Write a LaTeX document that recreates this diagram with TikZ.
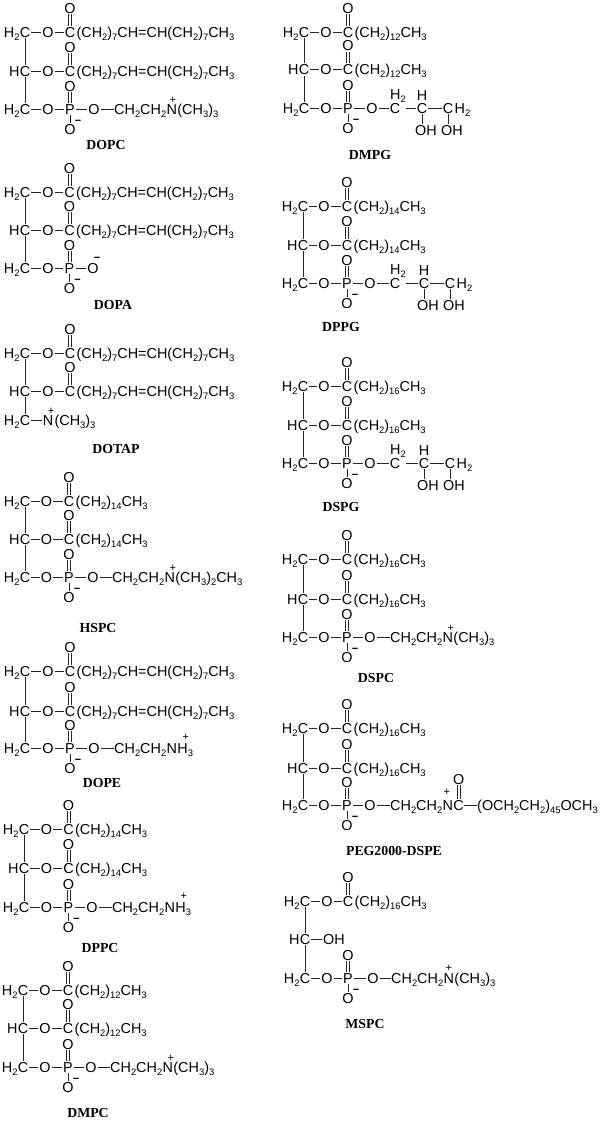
\documentclass[tikz,border=0pt]{standalone}
\usepackage{fontspec}
\setmainfont{Liberation Serif}
\newfontfamily\chemf{Liberation Sans}
\newcommand\sbs[1]{\raisebox{-0.22em}{\fontsize{9.4}{9.4}\selectfont #1}}
\tikzset{
 atom/.style={inner xsep=1pt,inner ysep=1pt,text height=10.2pt,text depth=0pt,font=\chemf\fontsize{14.4}{14.4}\selectfont},
 chg/.style={inner sep=0pt,font=\chemf\fontsize{11}{11}\selectfont},
 bond/.style={line width=.7pt,black!85},
 lab/.style={inner sep=0pt,font=\bfseries\fontsize{13.8}{14}\selectfont},
}
\newcommand\cols[3]{\def\xo{#1}\def\xk{#2}\def\xe{#3}}
% double bond: lower node, upper node
\newcommand\dbl[2]{%
\draw[bond] ([xshift=-1.5pt]#1.north)--([xshift=-1.5pt]#2.south);
\draw[bond] ([xshift=1.5pt]#1.north)--([xshift=1.5pt]#2.south);}
% id, x, y, left label, chain
\newcommand\ester[5]{%
\begin{scope}[shift={(#2,#3)}]
\node[atom] (#1c) at (20,0) {C};
\node[atom,anchor=east,inner xsep=0pt,xshift=1.2pt] (#1h) at (#1c.west) {#4};
\node[atom] (#1o) at (\xo,0) {O};
\node[atom] (#1k) at (\xk,0) {C};
\node[atom,anchor=west,inner xsep=0pt] (#1t) at (#1k.east) {#5};
\node[atom] (#1d) at (\xk,-24) {O};
\draw[bond] (#1c)--(#1o);
\draw[bond] (#1o)--(#1k);
\dbl{#1k}{#1d}
\end{scope}}
% id, x, y : H2C-O-P(=O)(O-)-O
\newcommand\phos[3]{%
\begin{scope}[shift={(#2,#3)}]
\node[atom] (#1c) at (20,0) {C};
\node[atom,anchor=east,inner xsep=0pt,xshift=1.2pt] (#1h) at (#1c.west) {H\sbs{2}};
\node[atom] (#1o) at (\xo,0) {O};
\node[atom] (#1p) at (\xk,0) {P};
\node[atom] (#1d) at (\xk,-23) {O};
\node[atom] (#1b) at (\xk,20.5) {O};
\node[chg] (#1m) at (\xk+8,13.5) {\bfseries\textminus};
\node[atom] (#1e) at (\xe,0) {O};
\draw[bond] (#1c)--(#1o);
\draw[bond] (#1o)--(#1p);
\draw[bond] (#1p)--(#1e);
\draw[bond] (#1p)--(#1b);
\dbl{#1p}{#1d}
\end{scope}}
% id, x, y3, start of chain, rest after N
\newcommand\tailN[5]{%
\begin{scope}[shift={(#2,#3)}]
\node[atom,anchor=west,inner xsep=0pt] (#1s) at (#4,0) {CH\sbs{2}CH\sbs{2}};
\node[atom,anchor=west,inner xsep=0pt] (#1n) at (#1s.east) {N};
\node[atom,anchor=west,inner xsep=0pt] (#1r) at (#1n.east) {#5};
\draw[bond] (#1e)--(#1s);
\end{scope}}
% name, host node, dx, dy (pt, up)
\newcommand\plusat[4]{\node[chg,xshift=#3pt,yshift=#4pt] (#1) at (#2.north) {+};}
% id, x, y3, g, f, j : PG tail
\newcommand\tailG[6]{%
\begin{scope}[shift={(#2,#3)}]
\node[atom] (#1g) at (#4,0) {C};
\node[atom,yshift=13.5pt,xshift=3pt] (#1hh) at (#1g) {H\sbs{2}};
\node[atom] (#1f) at (#5,0) {C};
\node[atom] (#1fh) at (#5,-12.5) {H};
\node[atom] (#1fo) at (#5+4,22) {OH};
\node[atom] (#1j) at (#6,0) {C};
\node[atom,anchor=west,inner xsep=0pt] (#1jh) at (#1j.east) {H\sbs{2}};
\node[atom] (#1jo) at (#6+4,22) {OH};
\draw[bond] (#1e)--(#1g);
\draw[bond] ([xshift=5pt]#1g.east)--(#1f);
\draw[bond] (#1f)--(#1j);
\draw[bond] (#1f)--(#1f|-#1fo.north);
\draw[bond] (#1j)--(#1j|-#1jo.north);
\end{scope}}
\newcommand\vb[2]{\draw[bond] (#1c)--(#2c);}
\newcommand\unsat{(CH\sbs{2})\sbs{7}CH=CH(CH\sbs{2})\sbs{7}CH\sbs{3}}
\newcommand\sat[1]{(CH\sbs{2})\sbs{#1}CH\sbs{3}}
\newcommand\topp[6]{% id,x,y1,y2,chain,y3
\ester{#1a}{#2}{#3}{H\sbs{2}}{#5}
\ester{#1g}{#2}{#4}{H}{#5}
\phos{#1x}{#2}{#6}
\vb{#1a}{#1g}\vb{#1g}{#1x}}
\begin{document}
\begin{tikzpicture}[x=1pt,y=-1pt]
\useasboundingbox (0,0) rectangle (600,1124);
\fill[white] (0,0) rectangle (600,1124);
% DOPC
\cols{43}{65}{89}
\topp{a}{5}{32}{71}{\unsat}{109}
\tailN{ax}{5}{109}{109}{(CH\sbs{3})\sbs{3}}
\plusat{aq}{axn}{1}{2.5}
\node[lab] (la) at (106,145) {DOPC};
% DOPA
\cols{43}{64.5}{88}
\topp{b}{5}{192}{230}{\unsat}{268}
\node[chg] (bq) at (97,259) {\bfseries\textminus};
\node[lab] (lb) at (113,305) {DOPA};
% DOTAP
\cols{43}{65}{89}
\ester{ca}{5}{353}{H\sbs{2}}{\unsat}
\ester{cg}{5}{391}{H}{\unsat}
\node[atom] (cxc) at (25,420) {C};
\node[atom,anchor=east,inner xsep=0pt,xshift=1.2pt] (cxh) at (cxc.west) {H\sbs{2}};
\node[atom] (cxn) at (48,420) {N};
\node[atom,anchor=west,inner xsep=0pt] (cxr) at (cxn.east) {(CH\sbs{3})\sbs{3}};
\plusat{cxq}{cxn}{3}{2.5}
\draw[bond] (cxc)--(cxn);
\vb{ca}{cg}\vb{cg}{cx}
\node[lab] (lc) at (116,449) {DOTAP};
% HSPC
\cols{41.5}{64}{88}
\topp{d}{5}{501}{539}{\sat{14}}{577}
\tailN{dx}{5}{577}{107}{(CH\sbs{3})\sbs{2}CH\sbs{3}}
\plusat{dq}{dxn}{3}{2.5}
\node[lab] (ld) at (98,628) {HSPC};
% DOPE
\cols{43}{65}{89}
\topp{e}{5}{671}{711}{\unsat}{748}
\tailN{ex}{5}{748}{109}{H\sbs{3}}
\plusat{eq}{exr}{0.5}{4}
\node[lab] (le) at (102,783) {DOPE};
% DPPC
\cols{42.5}{64.5}{88}
\topp{f}{4}{829}{868}{\sat{14}}{907}
\tailN{fx}{4}{907}{108}{H\sbs{3}}
\plusat{fq}{fxr}{0.5}{4}
\node[lab] (lf) at (100,948) {DPPC};
% DMPC
\cols{42}{65}{88}
\topp{g}{3}{990}{1028}{\sat{12}}{1067}
\tailN{gx}{3}{1067}{107}{(CH\sbs{3})\sbs{3}}
\plusat{gq}{gxn}{3}{2.5}
\node[lab] (lg) at (88,1113) {DMPC};
% DMPG
\cols{42}{64}{88}
\topp{h}{284}{32}{69.5}{\sat{12}}{108}
\tailG{hx}{284}{108}{111}{138}{164}
\node[lab] (lh) at (370,155) {DMPG};
% DPPG
\cols{41}{64}{87}
\topp{i}{283}{206}{245}{\sat{14}}{283}
\tailG{ix}{283}{283}{112}{141}{167}
\node[lab] (li) at (341,327) {DPPG};
% DSPG
\topp{j}{283}{386}{425}{\sat{16}}{463}
\tailG{jx}{283}{463}{112}{141}{167}
\node[lab] (lj) at (341,507) {DSPG};
% DSPC
\topp{k}{283}{559}{599}{\sat{16}}{637}
\tailN{kx}{283}{637}{107}{(CH\sbs{3})\sbs{3}}
\plusat{kq}{kxn}{3}{2.5}
\node[lab] (lk) at (376,678) {DSPC};
% PEG
\topp{l}{283}{728}{768}{\sat{16}}{805}
\tailN{lx}{283}{805}{107}{}
\plusat{lq}{lxn}{-1}{6}
\node[atom,anchor=west,inner xsep=0pt] (lpc) at (lxn.east) {C};
\node[atom,yshift=26pt] (lpo) at (lpc) {O};
\node[atom,anchor=west,inner xsep=0pt] (lpt) at (477,805) {(OCH\sbs{2}CH\sbs{2})\sbs{45}OCH\sbs{3}};
\dbl{lpc}{lpo}
\draw[bond] (lpc)--(lpt);
\node[lab] (ll) at (394,851) {PEG2000-DSPE};
% MSPC
\cols{42}{63}{88}
\ester{ma}{285}{901}{H\sbs{2}}{\sat{16}}
\begin{scope}[shift={(285,939)}]
\node[atom] (mgc) at (20,0) {C};
\node[atom,anchor=east,inner xsep=0pt,xshift=1.2pt] (mgh) at (mgc.west) {H};
\node[atom,anchor=west] (mgo) at (37,0) {OH};
\draw[bond] (mgc)--(mgo);
\end{scope}
\phos{mx}{285}{978}
\vb{ma}{mg}\vb{mg}{mx}
\tailN{mx}{285}{978}{106}{(CH\sbs{3})\sbs{3}}
\plusat{mq}{mxn}{0}{3.5}
\node[lab] (lm) at (365,1024) {MSPC};
\end{tikzpicture}
\end{document}
